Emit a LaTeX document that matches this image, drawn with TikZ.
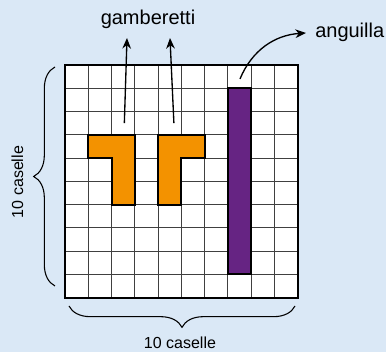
\documentclass[tikz,border=0pt]{standalone}
\usepackage{fontspec}
\setmainfont{Liberation Sans}
\usepackage{tikz}
\usetikzlibrary{arrows.meta,decorations.pathreplacing}
\definecolor{bgblue}{RGB}{218, 232, 246}
\definecolor{shrimporange}{RGB}{243, 146, 0}
\definecolor{eelpurple}{RGB}{102, 36, 131}

\tikzset{
  gridline/.style={black!75, line width=0.7pt},
  piece/.style={draw=black, line width=1.5pt, line join=miter},
  pointer/.style={-{Stealth[length=8pt,width=6.5pt]}, line width=1pt},
  bracket/.style={decorate, line width=0.8pt},
}

\begin{document}
\begin{tikzpicture}[x=0.75pt, y=-0.75pt]
% Background
\fill[bgblue] (0,0) rectangle (386,352);
\useasboundingbox (0,0) rectangle (386,352);

% Board of 10 x 10 cells
\begin{scope}[shift={(65,65)}, scale=23.27]
\fill[white] (0,0) rectangle (10,10);
\foreach \i in {1,...,9} {
    \draw[gridline] (\i,0) -- (\i,10);
    \draw[gridline] (0,\i) -- (10,\i);
}

% Shrimps
\draw[piece, fill=shrimporange] (1,3) -- (3,3) -- (3,6) -- (2,6) -- (2,4) -- (1,4) -- cycle;
\draw[piece, fill=shrimporange] (4,3) -- (6,3) -- (6,4) -- (5,4) -- (5,6) -- (4,6) -- cycle;

% Eel
\draw[piece, fill=eelpurple] (7,1) rectangle (8,9);

\draw[black, line width=1.6pt] (0,0) rectangle (10,10);

% Arrow start points
\coordinate (shrimpA) at (2.55,2.5);
\coordinate (shrimpB) at (4.68,2.5);
\coordinate (eel) at (7.52,0.6);
\end{scope}

% Labels
\node[font=\fontsize{15}{18}\selectfont, anchor=base, inner sep=0] (gamberetti) at (148,25) {gamberetti};
\node[font=\fontsize{15}{18}\selectfont, anchor=base west, inner sep=0] (anguilla) at (315,38) {anguilla};
\node[font=\fontsize{12}{14}\selectfont, anchor=base, inner sep=0] (rowcount) at (180,349) {10 caselle};
\node[font=\fontsize{12}{14}\selectfont, anchor=base, inner sep=0, rotate=90] (colcount) at (23,182) {10 caselle};

% Arrows
\coordinate (tipA) at (127,38);
\coordinate (tipB) at (170,38);
\coordinate (tipC) at (306,33);
\draw[pointer] (shrimpA) -- (tipA);
\draw[pointer] (shrimpB) -- (tipB);
\draw[pointer] (eel) .. controls (252,50) and (275,35) .. (tipC);

% Braces
\draw[bracket, decoration={brace, amplitude=16pt}] (55,286) -- (55,67);
\draw[bracket, decoration={brace, amplitude=16pt}] (295,306) -- (69,306);
\end{tikzpicture}
\end{document}
